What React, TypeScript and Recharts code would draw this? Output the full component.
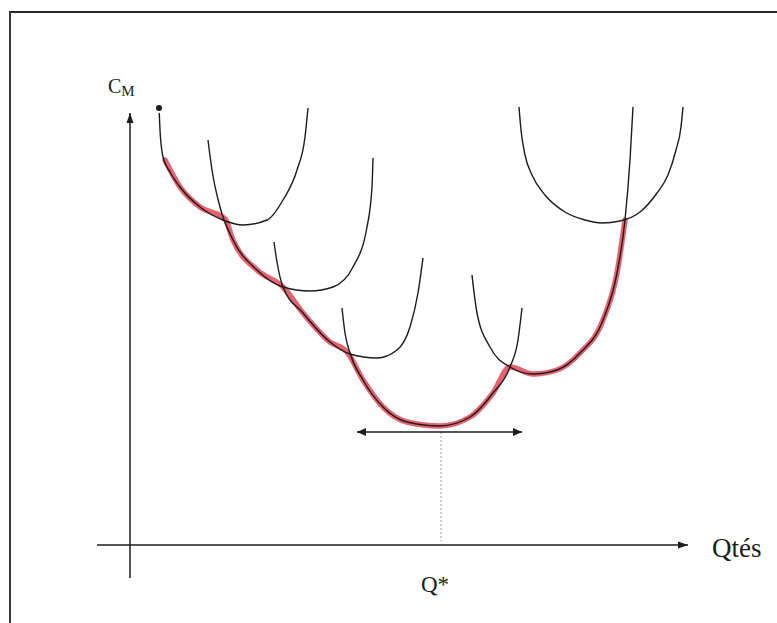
import { LineChart, Line, XAxis, YAxis, ReferenceLine, ReferenceDot } from "recharts";

// short-run average cost curves (quantity q, average cost c)
const curveA = [
  { q: 5.8, c: 87.4 }, { q: 6, c: 83 }, { q: 6.6, c: 77.6 }, { q: 8, c: 74.6 },
  { q: 10, c: 71.6 }, { q: 14, c: 67.6 }, { q: 18.6, c: 65 }, { q: 22.6, c: 64 },
  { q: 27.4, c: 65 }, { q: 30.6, c: 69 }, { q: 33.4, c: 75 }, { q: 35, c: 81.6 },
  { q: 35.6, c: 87.4 },
];
const curveB = [
  { q: 15.6, c: 81 }, { q: 16.4, c: 75 }, { q: 18, c: 67.6 }, { q: 20.6, c: 61 },
  { q: 25.4, c: 55 }, { q: 30.6, c: 51.6 }, { q: 36, c: 50.8 }, { q: 40.6, c: 51.6 },
  { q: 44.6, c: 55.6 }, { q: 47.4, c: 63.6 }, { q: 48.4, c: 71.6 }, { q: 48.6, c: 77.4 },
];
const curveC = [
  { q: 28.8, c: 60.6 }, { q: 29.4, c: 56.6 }, { q: 30.6, c: 51.6 }, { q: 34.6, c: 46.4 },
  { q: 40, c: 40.6 }, { q: 44, c: 38.2 }, { q: 49.4, c: 37.4 }, { q: 53.4, c: 39 },
  { q: 56, c: 43.6 }, { q: 57.6, c: 50.4 }, { q: 58.6, c: 57.4 },
];
const curveD = [
  { q: 42.4, c: 47.4 }, { q: 43, c: 42.4 }, { q: 44, c: 38.4 }, { q: 46.6, c: 33 },
  { q: 50.6, c: 27.6 }, { q: 55.4, c: 24.6 }, { q: 62, c: 23.8 }, { q: 68, c: 25.6 },
  { q: 72.6, c: 30.4 }, { q: 76, c: 35.6 }, { q: 77.6, c: 41 }, { q: 78.4, c: 47.4 },
];
const curveE = [
  { q: 68.4, c: 54 }, { q: 69.4, c: 46.4 }, { q: 72, c: 39.6 }, { q: 76, c: 35.6 },
  { q: 80.6, c: 34.2 }, { q: 85.4, c: 35 }, { q: 90, c: 38.4 }, { q: 94.6, c: 45 },
  { q: 97.4, c: 54.4 }, { q: 99, c: 65 }, { q: 100, c: 77 }, { q: 100.6, c: 87.6 },
];
const curveF = [
  { q: 77.8, c: 87.6 }, { q: 78.2, c: 83 }, { q: 79, c: 78 }, { q: 80.4, c: 74 },
  { q: 83, c: 70 }, { q: 87, c: 66.6 }, { q: 91, c: 65 }, { q: 94.4, c: 64.4 },
  { q: 98, c: 64.8 }, { q: 102, c: 66.6 }, { q: 105.4, c: 70.4 }, { q: 107.6, c: 74 },
  { q: 109.2, c: 79 }, { q: 110.2, c: 83.6 }, { q: 110.6, c: 87.6 },
];

// long-run envelope (hand-drawn in red)
const envelope = [
  { q: 7, c: 77 }, { q: 10, c: 71.6 }, { q: 14, c: 67.6 }, { q: 19, c: 65.2 },
  { q: 20.6, c: 61 }, { q: 25.4, c: 55 }, { q: 30.6, c: 51.6 }, { q: 34.6, c: 46.4 },
  { q: 40, c: 40.6 }, { q: 43.4, c: 38.6 }, { q: 46.6, c: 33 }, { q: 50.6, c: 27.6 },
  { q: 55.4, c: 24.6 }, { q: 62, c: 23.8 }, { q: 68, c: 25.6 }, { q: 72.6, c: 30.4 },
  { q: 76, c: 35.6 }, { q: 80.6, c: 34.2 }, { q: 85.4, c: 35 }, { q: 90, c: 38.4 },
  { q: 94.6, c: 45 }, { q: 97.4, c: 54.4 }, { q: 99, c: 65 },
];

const curves = [curveA, curveB, curveC, curveD, curveE, curveF];

const qStar = 62.2;

const INK = "#1c1c1c";
const SERIF = "Liberation Serif, serif";

// line with filled arrowheads at one or both ends
function arrowShape(start: boolean, end: boolean, size = 9, half = 4) {
  return (p: any) => {
    const { x1, y1, x2, y2 } = p;
    const a = Math.atan2(y2 - y1, x2 - x1);
    const head = (x: number, y: number, ang: number) => {
      const bx = x - size * Math.cos(ang);
      const by = y - size * Math.sin(ang);
      const px = -Math.sin(ang) * half;
      const py = Math.cos(ang) * half;
      return `${x},${y} ${bx + px},${by + py} ${bx - px},${by - py}`;
    };
    return (
      <g>
        <line x1={x1} y1={y1} x2={x2} y2={y2} stroke={INK} strokeWidth={1.5} />
        {end && <polygon points={head(x2, y2, a)} fill={INK} />}
        {start && <polygon points={head(x1, y1, a + Math.PI)} fill={INK} />}
      </g>
    );
  };
}

export default function App() {
  return (
    <div style={{ position: "absolute", left: 0, top: 0, width: 777, height: 623, background: "#fff", overflow: "hidden" }}>
      <div
        style={{
          position: "absolute",
          left: 9,
          top: 11,
          width: 800,
          height: 700,
          borderTop: "2px solid #2a2a2a",
          borderLeft: "2px solid #3a3a3a",
        }}
      />
      <LineChart width={777} height={623} margin={{ top: 0, right: 0, bottom: 0, left: 0 }} style={{ position: "absolute", left: 0, top: 0 }}>
        <XAxis type="number" dataKey="q" domain={[-26, 129.4]} allowDataOverflow hide />
        <YAxis type="number" dataKey="c" domain={[-15.6, 109]} allowDataOverflow hide />

        <ReferenceLine segment={[{ x: 0, y: -6.6 }, { x: 0, y: 86.4 }]} ifOverflow="visible" shape={arrowShape(false, true, 10, 3.5)} />
        <ReferenceLine segment={[{ x: -6.6, y: 0 }, { x: 111.6, y: 0 }]} ifOverflow="visible" shape={arrowShape(false, true, 10, 3.5)} />
        <ReferenceLine
          segment={[{ x: qStar, y: 22.6 }, { x: qStar, y: 0.8 }]}
          ifOverflow="visible"
          stroke="#9a9a9a"
          strokeWidth={1}
          strokeDasharray="2 2"
        />
        <ReferenceLine segment={[{ x: 45.4, y: 22.6 }, { x: 78.4, y: 22.6 }]} ifOverflow="visible" shape={arrowShape(true, true, 9, 4)} />

        <Line
          data={envelope}
          dataKey="c"
          type="monotone"
          stroke="#e04656"
          strokeOpacity={0.85}
          strokeWidth={5.5}
          strokeLinecap="round"
          dot={false}
          isAnimationActive={false}
        />
        {curves.map((d, i) => (
          <Line key={i} data={d} dataKey="c" type="monotone" stroke={INK} strokeWidth={1.4} dot={false} isAnimationActive={false} />
        ))}

        <ReferenceDot
          x={-4.4}
          y={90.4}
          r={0}
          ifOverflow="visible"
          shape={(p: any) => (
            <text x={p.cx} y={p.cy} fontFamily={SERIF} fill={INK}>
              <tspan fontSize={20}>C</tspan>
              <tspan fontSize={15} dy={3}>M</tspan>
            </text>
          )}
        />
        <ReferenceDot
          x={116.4}
          y={-2.4}
          r={0}
          ifOverflow="visible"
          shape={(p: any) => (
            <text x={p.cx} y={p.cy} fontFamily={SERIF} fontSize={27} fill={INK}>
              Qtés
            </text>
          )}
        />
        <ReferenceDot
          x={61}
          y={-9.4}
          r={0}
          ifOverflow="visible"
          shape={(p: any) => (
            <text x={p.cx} y={p.cy} fontFamily={SERIF} fontSize={23} textAnchor="middle" fill={INK}>
              Q*
            </text>
          )}
        />
      </LineChart>
    </div>
  );
}
